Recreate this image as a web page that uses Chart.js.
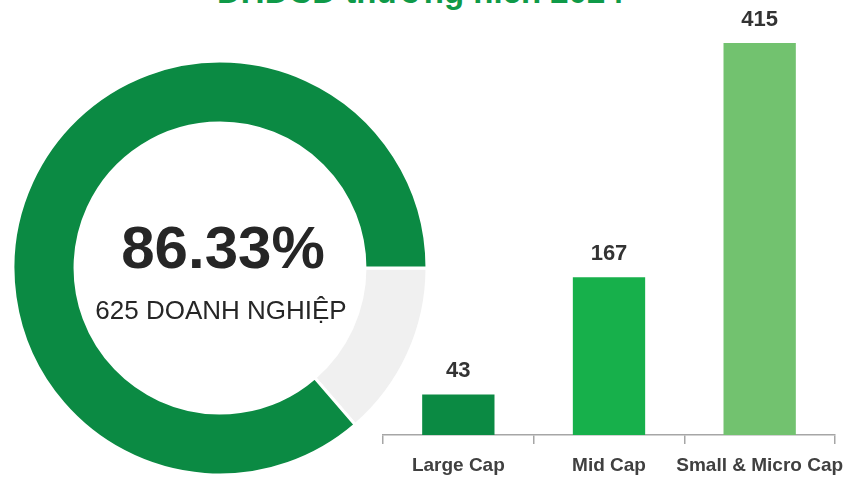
<!DOCTYPE html>
<html>
<head>
<meta charset="utf-8">
<script src="https://cdn.jsdelivr.net/npm/chart.js@4/dist/chart.umd.min.js"></script>
<style>
    html, body { margin: 0; padding: 0; background: #fff; }
    body { width: 852px; height: 478px; position: relative; overflow: hidden; font-family: "Liberation Sans", Arial, sans-serif; }
    .title { position: absolute; left: 0; width: 852px; top: -25px; font-size: 33px; line-height: 33px; font-weight: bold; color: #0f9a48; white-space: nowrap; }
    .title span { position: absolute; left: 217px; }
    #donutBox { position: absolute; left: 0; top: 0; width: 440px; height: 478px; }
    #barBox { position: absolute; left: 372px; top: 0; width: 480px; height: 478px; }
</style>
</head>
<body>
<div class="title"><span>ĐHĐCĐ thường niên 2024</span></div>
<div id="donutBox"><canvas id="shareChart"></canvas></div>
<div id="barBox"><canvas id="capChart"></canvas></div>

<script>
// Data
const shareParts = ['Chưa tổ chức', 'Đã tổ chức'];
const shareValues = [13.67, 86.33];
const shareColors = ['#f0f0f0', '#0b8a43'];
const centerPct = '86.33%';
const centerCount = '625 DOANH NGHIỆP';

const capCategories = ['Large Cap', 'Mid Cap', 'Small & Micro Cap'];
const capCounts = [43, 167, 415];
const capColors = ['#0b8a43', '#17b04b', '#72c26f'];

// Text in the middle of the ring
const centerText = {
    id: 'centerText',
    afterDraw(chart) {
        const ctx = chart.ctx;
        ctx.save();
        ctx.fillStyle = '#262626';
        ctx.textAlign = 'center';
        ctx.textBaseline = 'alphabetic';
        ctx.font = 'bold 60px "Liberation Sans", Arial, sans-serif';
        ctx.fillText(centerPct, 223, 268);
        ctx.font = '26px "Liberation Sans", Arial, sans-serif';
        ctx.fillText(centerCount, 221, 319);
        ctx.restore();
    }
};

// Numbers above the bars
const barValues = {
    id: 'barValues',
    afterDatasetsDraw(chart) {
        const ctx = chart.ctx;
        const meta = chart.getDatasetMeta(0);
        ctx.save();
        ctx.fillStyle = '#333333';
        ctx.textAlign = 'center';
        ctx.textBaseline = 'alphabetic';
        ctx.font = 'bold 22px "Liberation Sans", Arial, sans-serif';
        meta.data.forEach((bar, i) => {
            ctx.fillText(String(capCounts[i]), bar.x, bar.y - 17);
        });
        ctx.restore();
    }
};

new Chart(document.getElementById('shareChart'), {
    type: 'doughnut',
    data: {
        labels: shareParts,
        datasets: [{
            data: shareValues,
            backgroundColor: shareColors,
            borderColor: '#ffffff',
            borderWidth: 3,
            radius: 207,
            cutout: 146
        }]
    },
    options: {
        responsive: true,
        maintainAspectRatio: false,
        animation: false,
        rotation: 90,
        layout: { padding: { top: 58 } },
        plugins: { legend: { display: false }, tooltip: { enabled: false } }
    },
    plugins: [centerText]
});

new Chart(document.getElementById('capChart'), {
    type: 'bar',
    data: {
        labels: capCategories,
        datasets: [{
            data: capCounts,
            backgroundColor: capColors,
            barPercentage: 0.48,
            categoryPercentage: 1
        }]
    },
    options: {
        responsive: true,
        maintainAspectRatio: false,
        animation: false,
        layout: { padding: { left: 11, right: 17, top: 10, bottom: 0 } },
        plugins: { legend: { display: false }, tooltip: { enabled: false } },
        scales: {
            y: { display: false, min: 0, max: 450 },
            x: {
                afterFit(scale) {
                    // fixed axis band, and let labels hang past the ends
                    scale.height = 43;
                    scale.paddingLeft = 0;
                    scale.paddingRight = 0;
                },
                border: { display: true, color: '#a6a6a6', width: 1.5 },
                grid: { offset: true, drawOnChartArea: false, drawTicks: true, tickLength: 9, color: '#a6a6a6', lineWidth: 1.5 },
                ticks: {
                    color: '#404040',
                    padding: 10,
                    minRotation: 0,
                    maxRotation: 0,
                    autoSkip: false,
                    font: { family: '"Liberation Sans", Arial, sans-serif', size: 19, weight: 'bold' }
                }
            }
        }
    },
    plugins: [barValues]
});
</script>
</body>
</html>
